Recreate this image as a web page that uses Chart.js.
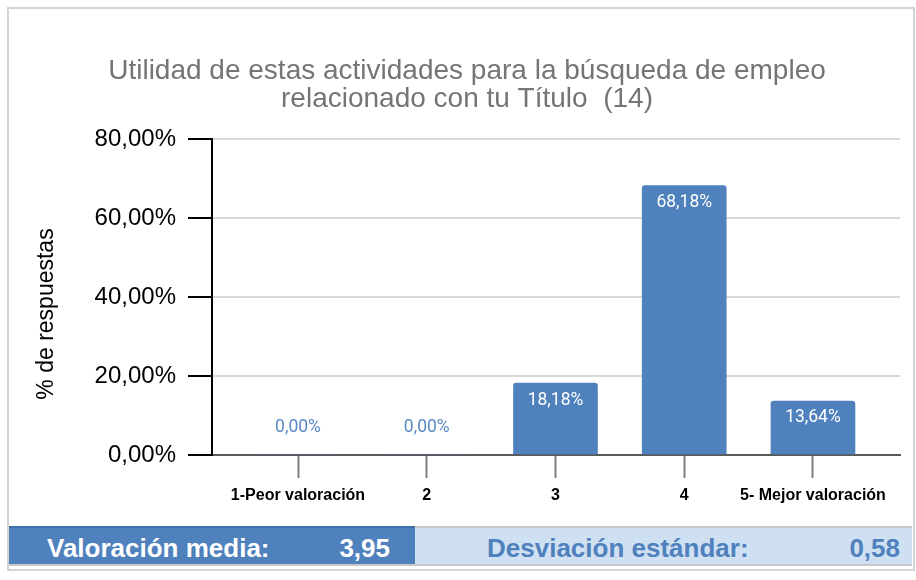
<!DOCTYPE html>
<html>
<head>
<meta charset="utf-8">
<script src="https://cdn.jsdelivr.net/npm/chart.js@4"></script>
<style>
    body { margin: 0; background: #fff; font-family: "Liberation Sans", Arial, sans-serif; }
    #marco { position: absolute; left: 7px; top: 7px; width: 904px; height: 560px; border: 2px solid #d4d4d4; }
    #lienzo { position: absolute; left: 34px; top: 0; }
    .pie { position: absolute; top: 526px; height: 40px; box-sizing: border-box; font-weight: bold; font-size: 26px; line-height: 40px; }
    .pie span { position: absolute; }
    #pie-media { left: 9px; width: 406px; background: #4f81bd; color: #fff; border-top: 2px solid #3f70aa; border-bottom: 2px solid #c8c8c8; }
    #pie-desv { left: 415px; width: 497px; background: #cfe0f3; color: #4f81bd; border-top: 2px solid #c8c8c8; border-bottom: 2px solid #c8c8c8; }
</style>
</head>
<body>
<div id="marco"></div>
<canvas id="lienzo" width="882" height="520"></canvas>
<div class="pie" id="pie-media"><span style="left:38px">Valoración media:</span><span style="right:25px">3,95</span></div>
<div class="pie" id="pie-desv"><span style="left:72px">Desviación estándar:</span><span style="right:12px">0,58</span></div>
<script>
// Datos del gráfico
const categorias = ['1-Peor valoración', '2', '3', '4', '5- Mejor valoración'];
const porcentajes = [0, 0, 18.18, 68.18, 13.64];
const ticksY = [0, 20, 40, 60, 80];
const tituloLineas = ['Utilidad de estas actividades para la búsqueda de empleo', 'relacionado con tu Título  (14)'];
const tituloEjeY = '% de respuestas';

const fmtPct = v => v.toFixed(2).replace('.', ',') + '%';

// Etiquetas de valor sobre/dentro de las barras
const etiquetasBarras = {
    id: 'etiquetasBarras',
    afterDatasetsDraw(chart) {
        const ctx = chart.ctx;
        const meta = chart.getDatasetMeta(0);
        ctx.save();
        ctx.font = '17.5px Roboto';
        ctx.textAlign = 'center';
        ctx.textBaseline = 'middle';
        meta.data.forEach((bar, i) => {
            const v = porcentajes[i];
            if (v > 0) {
                ctx.fillStyle = '#ffffff';
                ctx.fillText(fmtPct(v), bar.x, bar.y + 17);
            } else {
                ctx.fillStyle = '#5a8ac4';
                ctx.fillText(fmtPct(v), bar.x, bar.base - 27);
            }
        });
        ctx.restore();
    }
};

// Título del eje Y (girado)
const tituloY = {
    id: 'tituloY',
    afterDraw(chart) {
        const ctx = chart.ctx;
        ctx.save();
        ctx.translate(13, 314);
        ctx.rotate(-Math.PI / 2);
        ctx.font = '23px "Liberation Sans"';
        ctx.fillStyle = '#000';
        ctx.textAlign = 'center';
        ctx.textBaseline = 'middle';
        ctx.fillText(tituloEjeY, 0, 0);
        ctx.restore();
    }
};

new Chart(document.getElementById('lienzo'), {
    type: 'bar',
    data: {
        datasets: [{
            data: porcentajes.map((v, i) => ({ x: i, y: v })),
            backgroundColor: '#4f81bd',
            barThickness: 84,
            borderRadius: 3,
            borderSkipped: 'start'
        }]
    },
    plugins: [etiquetasBarras, tituloY],
    options: {
        responsive: false,
        animation: false,
        layout: { padding: { left: 0, right: 16, top: 0, bottom: 0 } },
        plugins: {
            legend: { display: false },
            tooltip: { enabled: false },
            title: {
                display: true,
                text: tituloLineas,
                color: '#757575',
                font: { family: '"Liberation Sans"', size: 28, weight: 'normal', lineHeight: 1.0 },
                padding: { top: 57, bottom: 26 }
            }
        },
        scales: {
            x: {
                type: 'linear',
                offset: false,
                min: -0.668,
                max: 4.676,
                afterBuildTicks: s => { s.ticks = categorias.map((_, i) => ({ value: i })); },
                afterFit: s => { s.height = 65; },
                ticks: {
                    autoSkip: false,
                    maxRotation: 0,
                    padding: 8,
                    color: '#000',
                    font: { family: '"Liberation Sans"', size: 16, weight: 'bold' },
                    callback: v => categorias[v]
                },
                grid: { offset: false, drawOnChartArea: false, drawTicks: true, tickLength: 23, tickColor: '#808080', tickWidth: 2 },
                border: { color: '#595959', width: 2 }
            },
            y: {
                min: 0,
                max: 80,
                afterBuildTicks: s => { s.ticks = ticksY.map(v => ({ value: v })); },
                afterFit: s => { s.width = 178; },
                ticks: {
                    padding: 12,
                    color: '#000',
                    font: { family: '"Liberation Sans"', size: 24 },
                    callback: v => fmtPct(v)
                },
                grid: { color: '#d9d9d9', lineWidth: 2, tickLength: 24, tickColor: '#000', tickWidth: 2 },
                border: { color: '#000', width: 2 }
            }
        }
    }
});
</script>
</body>
</html>
